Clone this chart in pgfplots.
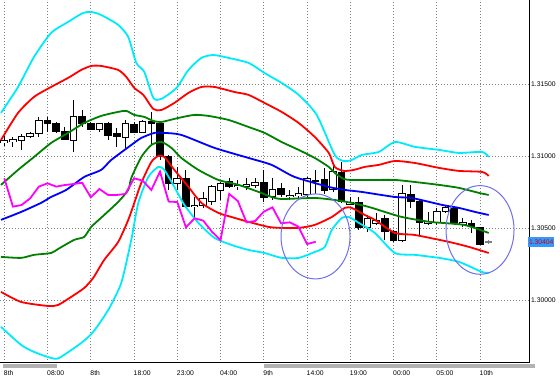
\documentclass[border=0pt]{standalone}
\usepackage{pgfplots}
\pgfplotsset{compat=1.18}
\usepackage{pgfplotstable}
\usepackage{fontspec}
\setmainfont{Liberation Sans}
\definecolor{mtcyan}{RGB}{0,235,250}
\definecolor{mtred}{RGB}{255,0,0}
\definecolor{mtgreen}{RGB}{0,128,0}
\definecolor{mtblue}{RGB}{0,0,255}
\definecolor{mtmag}{RGB}{255,0,255}
\definecolor{ellc}{RGB}{110,110,240}
\definecolor{pricebox}{RGB}{51,153,255}

\pgfplotstableread{
i O H L C B
0 1.31092 1.31138 1.31069 1.31111 1
1 1.31099 1.31134 1.31065 1.31115 1
2 1.31106 1.31157 1.31046 1.31134 1
3 1.31134 1.31169 1.31122 1.31157 1
4 1.31157 1.31273 1.31134 1.31250 1
5 1.31250 1.31268 1.31169 1.31227 0
6 1.31227 1.31238 1.31157 1.31169 0
7 1.31169 1.31203 1.31111 1.31115 0
8 1.31106 1.31389 1.31030 1.31273 1
9 1.31277 1.31319 1.31203 1.31227 0
10 1.31227 1.31238 1.31180 1.31185 0
11 1.31185 1.31231 1.31169 1.31227 1
12 1.31227 1.31238 1.31111 1.31145 0
13 1.31157 1.31192 1.31065 1.31134 0
14 1.31129 1.31250 1.31053 1.31227 1
15 1.31222 1.31238 1.31157 1.31164 0
16 1.31162 1.31250 1.31157 1.31238 1
17 1.31236 1.31308 1.31076 1.31222 0
18 1.31227 1.31238 1.30972 1.30999 0
19 1.30999 1.31007 1.30764 1.30810 0
20 1.30810 1.30926 1.30764 1.30845 1
21 1.30845 1.30902 1.30636 1.30648 0
22 1.30648 1.30717 1.30578 1.30659 1
23 1.30659 1.30752 1.30636 1.30706 1
24 1.30683 1.30798 1.30659 1.30787 1
25 1.30764 1.30821 1.30694 1.30810 1
26 1.30821 1.30845 1.30775 1.30787 0
27 1.30787 1.30833 1.30764 1.30798 1
28 1.30791 1.30845 1.30764 1.30805 1
29 1.30798 1.30845 1.30775 1.30814 1
30 1.30814 1.30902 1.30683 1.30713 0
31 1.30722 1.30845 1.30694 1.30770 1
32 1.30770 1.30810 1.30717 1.30729 0
33 1.30717 1.30764 1.30694 1.30729 1
34 1.30724 1.30787 1.30706 1.30736 1
35 1.30736 1.30856 1.30717 1.30845 1
36 1.30821 1.30902 1.30740 1.30828 1
37 1.30838 1.30914 1.30740 1.30764 0
38 1.30764 1.30949 1.30752 1.30891 1
39 1.30884 1.30960 1.30671 1.30683 0
40 1.30666 1.30717 1.30659 1.30680 1
41 1.30680 1.30717 1.30486 1.30504 0
42 1.30504 1.30590 1.30474 1.30567 1
43 1.30532 1.30601 1.30520 1.30551 1
44 1.30567 1.30590 1.30416 1.30474 0
45 1.30474 1.30486 1.30405 1.30416 0
46 1.30416 1.30798 1.30405 1.30736 1
47 1.30736 1.30798 1.30636 1.30687 0
48 1.30687 1.30694 1.30451 1.30539 0
49 1.30532 1.30613 1.30520 1.30548 1
50 1.30537 1.30636 1.30520 1.30613 1
51 1.30613 1.30659 1.30606 1.30643 1
52 1.30636 1.30648 1.30520 1.30532 0
53 1.30525 1.30567 1.30509 1.30539 1
54 1.30532 1.30555 1.30463 1.30509 0
55 1.30504 1.30509 1.30382 1.30388 0
}\candles

\pgfplotstableread{
i O H L C
56 1.30400 1.30416 1.30393 1.30404
}\lastcandle

\begin{document}
\begin{tikzpicture}
\path[use as bounding box] (0,0) rectangle (560bp,379bp);
\begin{axis}[
  at={(0,16bp)}, anchor=south west,
  width=529bp, height=363bp, scale only axis,
  xmin=-0.497, xmax=60.66,
  ymin=1.29562, ymax=1.32083,
  axis x line=bottom, axis y line=right,
  axis line style={-, black, line width=1bp},
  xtick={0,5,...,55},
  xticklabels={8th,08:00,8th,18:00,23:00,04:00,9th,14:00,19:00,00:00,05:00,10th},
  ytick={1.30000,1.30500,1.31000,1.31500},
  yticklabels={1.30000,1.30500,1.31000,1.31500},
  major tick length=0pt,
  xticklabel style={anchor=west, inner sep=0pt, yshift=-10.5bp, xshift=-0.5bp, font=\fontsize{6.8}{7}\selectfont},
  yticklabel style={anchor=west, inner sep=0pt, xshift=2bp, font=\fontsize{6.8}{7}\selectfont},
  grid=major,
  major grid style={gray, dash pattern=on 1bp off 2bp, line width=0.7bp},
  clip mode=individual,
]
% wicks
\addplot[draw=none, mark=none, forget plot,
  error bars/.cd, y dir=both, y explicit, error mark=none,
  error bar style={draw=black, line width=0.9bp}]
  table[x=i, y expr={(\thisrow{H}+\thisrow{L})/2}, y error expr={(\thisrow{H}-\thisrow{L})/2}] {\candles};
% bodies (outline / black)
\addplot[draw=none, mark=none, forget plot,
  error bars/.cd, y dir=both, y explicit, error mark=none,
  error bar style={draw=black, line width=7.6bp}]
  table[x=i, y expr={(\thisrow{O}+\thisrow{C})/2}, y error expr={abs(\thisrow{O}-\thisrow{C})/2+0.000035}] {\candles};
% bull bodies (white inside)
\addplot[draw=none, mark=none, forget plot,
  restrict expr to domain={\thisrow{B}}{0.5:1.5},
  error bars/.cd, y dir=both, y explicit, error mark=none,
  error bar style={draw=white, line width=5.6bp}]
  table[x=i, y expr={(\thisrow{O}+\thisrow{C})/2}, y error expr={max(abs(\thisrow{O}-\thisrow{C})/2-0.000035,0)}] {\candles};
% last (forming) candle in grey
\addplot[draw=none, mark=none, forget plot,
  error bars/.cd, y dir=both, y explicit, error mark=none,
  error bar style={draw=gray, line width=0.9bp}]
  table[x=i, y expr={(\thisrow{H}+\thisrow{L})/2}, y error expr={(\thisrow{H}-\thisrow{L})/2}] {\lastcandle};
\addplot[draw=none, mark=none, forget plot,
  error bars/.cd, y dir=both, y explicit, error mark=none,
  error bar style={draw=gray, line width=7.6bp}]
  table[x=i, y expr={(\thisrow{O}+\thisrow{C})/2}, y error expr={abs(\thisrow{O}-\thisrow{C})/2+0.000035}] {\lastcandle};

% cyan upper
\addplot[mtcyan, line width=1.8bp, smooth, tension=0.4, mark=none] coordinates {
(-0.38,1.31299) (1.59,1.31479) (3.44,1.31688) (5.41,1.31854) (7.38,1.31931) (9.12,1.31993) (10.05,1.32000) (11.20,1.31979) (13.17,1.31910) (14.33,1.31826) (15.26,1.31646) (16.19,1.31583) (17.23,1.31403) (18.16,1.31396) (19.90,1.31472) (21.29,1.31597) (22.79,1.31681) (24.18,1.31701) (25.92,1.31681) (28.24,1.31646) (30.09,1.31576) (32.06,1.31507) (34.03,1.31424) (36.12,1.31285) (38.20,1.31007) (39.25,1.30965) (40.17,1.30972) (41.33,1.31007) (43.30,1.31028) (45.16,1.31097) (47.47,1.31063) (50.26,1.31042) (52.57,1.31021) (55.24,1.31028) (56,1.30993)};
% red upper
\addplot[mtred, line width=1.8bp, smooth, tension=0.4, mark=none] coordinates {
(-0.38,1.31111) (1.59,1.31299) (3.44,1.31410) (5.41,1.31479) (7.38,1.31542) (8.89,1.31597) (10.05,1.31625) (11.20,1.31625) (13.17,1.31597) (14.10,1.31549) (15.03,1.31472) (16.07,1.31424) (17.23,1.31326) (18.16,1.31319) (19.66,1.31368) (21.29,1.31438) (22.79,1.31479) (24.30,1.31479) (26.62,1.31444) (28.24,1.31424) (30.09,1.31368) (32.06,1.31306) (34.03,1.31229) (35.89,1.31132) (37.51,1.31021) (38.20,1.30924) (39.25,1.30896) (40.41,1.30903) (41.68,1.30924) (43.30,1.30938) (45.16,1.30965) (47.47,1.30951) (50.26,1.30917) (52.57,1.30896) (55.24,1.30889) (56,1.30861)};
% green upper
\addplot[mtgreen, line width=1.8bp, smooth, tension=0.4, mark=none] coordinates {
(-0.38,1.30799) (1.59,1.30903) (3.44,1.30993) (5.41,1.31090) (7.38,1.31160) (9.24,1.31229) (11.20,1.31278) (13.17,1.31306) (14.10,1.31313) (15.03,1.31285) (16.19,1.31271) (17.23,1.31243) (18.16,1.31236) (20.13,1.31264) (21.98,1.31285) (23.60,1.31278) (25.92,1.31250) (28.24,1.31201) (30.09,1.31160) (32.06,1.31097) (34.03,1.31042) (35.89,1.30986) (37.51,1.30924) (38.20,1.30882) (39.25,1.30840) (40.17,1.30833) (42.14,1.30833) (45.16,1.30833) (47.47,1.30819) (50.26,1.30799) (52.57,1.30778) (54.89,1.30743) (56,1.30729)};
% blue middle
\addplot[mtblue, line width=1.8bp, smooth, tension=0.4, mark=none] coordinates {
(-0.38,1.30556) (1.94,1.30611) (4.25,1.30674) (5.41,1.30715) (7.15,1.30764) (9.24,1.30854) (11.20,1.30903) (12.36,1.30972) (14.68,1.31076) (15.84,1.31125) (17.35,1.31160) (18.50,1.31160) (20.47,1.31146) (24.30,1.31056) (28.24,1.30986) (30.90,1.30938) (33.57,1.30854) (37.51,1.30785) (39.36,1.30764) (41.33,1.30750) (45.16,1.30715) (47.13,1.30708) (50.60,1.30660) (52.57,1.30639) (54.43,1.30611) (56,1.30590)};
% green lower
\addplot[mtgreen, line width=1.8bp, smooth, tension=0.4, mark=none] coordinates {
(-0.38,1.30299) (1.94,1.30292) (3.44,1.30313) (5.41,1.30326) (6.22,1.30354) (8.08,1.30417) (9.24,1.30438) (10.05,1.30507) (11.55,1.30590) (13.17,1.30681) (14.33,1.30764) (14.68,1.30847) (15.84,1.30993) (17.00,1.31076) (18.16,1.31097) (19.32,1.31056) (20.47,1.30986) (22.44,1.30903) (24.76,1.30833) (27.08,1.30799) (29.40,1.30750) (30.90,1.30715) (32.06,1.30701) (35.89,1.30708) (38.20,1.30694) (40.17,1.30674) (42.14,1.30646) (44.00,1.30611) (45.97,1.30576) (49.21,1.30542) (53.15,1.30521) (56,1.30465)};
% red lower
\addplot[mtred, line width=1.8bp, smooth, tension=0.4, mark=none] coordinates {
(-0.38,1.30056) (1.94,1.29986) (5.06,1.29958) (6.22,1.29965) (7.73,1.30021) (9.24,1.30083) (10.28,1.30153) (11.55,1.30278) (13.17,1.30403) (14.33,1.30556) (15.03,1.30674) (15.84,1.30813) (17.00,1.30958) (17.81,1.31000) (18.50,1.30993) (19.66,1.30903) (21.29,1.30785) (22.79,1.30674) (24.76,1.30604) (26.27,1.30576) (28.24,1.30542) (30.56,1.30507) (32.06,1.30500) (34.03,1.30500) (35.89,1.30521) (37.86,1.30576) (39.36,1.30639) (40.17,1.30639) (41.68,1.30590) (42.84,1.30556) (45.16,1.30465) (47.47,1.30451) (51.41,1.30403) (53.73,1.30368) (56,1.30326)};
% cyan lower
\addplot[mtcyan, line width=1.8bp, smooth, tension=0.4, mark=none] coordinates {
(-0.38,1.29813) (1.94,1.29688) (3.44,1.29639) (5.41,1.29597) (6.34,1.29597) (8.89,1.29701) (10.28,1.29778) (12.02,1.29931) (13.52,1.30118) (14.68,1.30417) (15.49,1.30674) (16.65,1.30854) (17.81,1.30924) (18.50,1.30903) (19.66,1.30785) (20.82,1.30660) (22.44,1.30535) (24.30,1.30431) (26.27,1.30382) (28.24,1.30347) (30.09,1.30326) (32.06,1.30292) (34.03,1.30292) (35.89,1.30333) (37.05,1.30368) (37.86,1.30486) (39.01,1.30569) (39.83,1.30576) (40.99,1.30535) (42.84,1.30465) (45.16,1.30326) (47.47,1.30313) (50.26,1.30292) (52.57,1.30264) (55.24,1.30194) (56,1.30188)};
% magenta lagging line
\addplot[mtmag, line width=1.8bp, mark=none] coordinates {
(0,1.30845) (1,1.30648) (2,1.30659) (3,1.30706) (4,1.30787) (5,1.30810) (6,1.30787) (7,1.30798) (8,1.30805) (9,1.30814) (10,1.30713) (11,1.30770) (12,1.30729) (13,1.30729) (14,1.30736) (15,1.30845) (16,1.30828) (17,1.30764) (18,1.30891) (19,1.30683) (20,1.30680) (21,1.30504) (22,1.30567) (23,1.30551) (24,1.30474) (25,1.30416) (26,1.30736) (27,1.30687) (28,1.30539) (29,1.30548) (30,1.30613) (31,1.30643) (32,1.30532) (33,1.30539) (34,1.30509) (35,1.30388) (36,1.30404)};

\draw[ellc, line width=1bp] (axis cs:35.98,1.30441) ellipse [x radius=3.99, y radius=0.00295];
\draw[ellc, line width=1bp] (axis cs:55.0,1.30486) ellipse [x radius=3.93, y radius=0.00308];

\node[anchor=west, fill=pricebox, text=red!80!black, inner sep=0.8bp, minimum height=10bp, xshift=-1bp, font=\fontsize{6.8}{7}\selectfont] at (axis cs:60.66,1.30404) {1.30404};
\end{axis}
\fill[gray!60] (3bp,11bp) rectangle (57bp,14.5bp);
\fill[gray!60] (264bp,11bp) rectangle (535bp,14.5bp);
\end{tikzpicture}
\end{document}
